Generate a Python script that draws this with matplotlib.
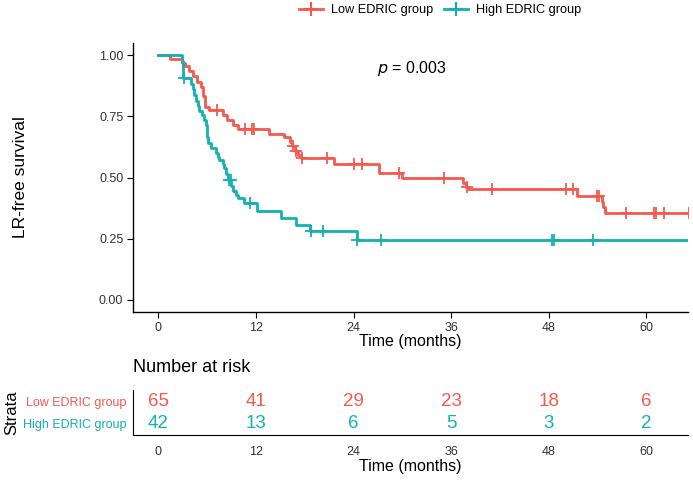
import numpy as np
import matplotlib
matplotlib.use("Agg")
import matplotlib.pyplot as plt
from matplotlib.lines import Line2D

plt.rcParams['font.family'] = ['Liberation Sans', 'DejaVu Sans']

# ---------------- data ----------------
groups = ["Low EDRIC group", "High EDRIC group"]
colors = ["#F5594E", "#14B1B4"]

low_times = [0, 1.4, 2.96, 3.3, 3.8, 4.3, 4.8, 5.3, 5.5, 5.8, 6.2, 8.0, 8.5, 9.2, 9.75,
             13.6, 15.4, 16.2, 16.4, 16.8, 17.2, 17.6, 21.6, 27.1, 29.9, 37.5, 37.8,
             38.1, 51.5, 54.5, 54.7, 54.9]
low_surv = [1.0, 0.985, 0.97, 0.955, 0.936, 0.915, 0.89, 0.87, 0.833, 0.79, 0.777,
            0.755, 0.735, 0.716, 0.697, 0.678, 0.664, 0.646, 0.628, 0.608, 0.594,
            0.578, 0.557, 0.519, 0.497, 0.478, 0.462, 0.451, 0.423, 0.40, 0.378, 0.353]
low_censor = [7.2, 10.7, 11.5, 11.8, 16.5, 16.9, 17.7, 20.7, 24.0, 25.1, 29.6, 35.1,
              37.9, 41.0, 50.1, 51.0, 53.9, 54.2, 57.5, 60.9, 61.2, 62.1, 65.2]

high_times = [0, 2.9, 3.0, 3.05, 3.1, 4.0, 4.25, 4.45, 4.66, 4.87, 5.07, 5.36, 5.68,
              5.9, 6.0, 6.03, 6.06, 6.5, 7.1, 7.3, 7.5, 7.9, 8.1, 8.3, 8.6, 8.95, 9.2,
              9.6, 9.8, 10.6, 12.1, 15.1, 16.9, 18.6, 24.4]
high_surv = [1.0, 0.976, 0.952, 0.929, 0.905, 0.881, 0.861, 0.836, 0.813, 0.792, 0.772,
             0.755, 0.735, 0.715, 0.69, 0.667, 0.643, 0.62, 0.60, 0.585, 0.57, 0.555,
             0.538, 0.515, 0.49, 0.466, 0.444, 0.43, 0.415, 0.395, 0.362, 0.335, 0.307,
             0.28, 0.245]
high_censor = [3.2, 8.75, 8.9, 11.3, 18.8, 20.2, 24.4, 27.4, 48.4, 48.6, 53.4]

risk_times = [0, 12, 24, 36, 48, 60]
risk_low = [65, 41, 29, 23, 18, 6]
risk_high = [42, 13, 6, 5, 3, 2]

p_text = "0.003"
xticks = [0, 12, 24, 36, 48, 60]
yticks = [0.0, 0.25, 0.5, 0.75, 1.0]

# ---------------- figure ----------------
W, H = 693, 480
fig = plt.figure(figsize=(W / 100, H / 100), dpi=100)

def fx(px):
    return px / W

def fy(py):
    return 1 - py / H

ax = fig.add_axes([fx(133), fy(312), fx(688) - fx(133), fy(43) - fy(312)])
xlim = (-3.1, 65.1)

series = [(low_times, low_surv, low_censor), (high_times, high_surv, high_censor)]
for (t, s, c), col in zip(series, colors):
    tt = list(t) + [xlim[1] + 5]
    ss = list(s) + [s[-1]]
    ax.step(tt, ss, where='post', color=col, lw=2.0, zorder=3)
    ct = np.array(c)
    idx = np.searchsorted(np.array(t), ct, side='right') - 1
    cy = np.array(s)[idx]
    ax.plot(ct, cy, linestyle='none', marker='+', markersize=9, markeredgewidth=1.3,
            color=col, zorder=4)

ax.set_xlim(*xlim)
ax.set_ylim(-0.05, 1.05)
ax.set_xticks(xticks)
ax.set_yticks(yticks)
ax.set_yticklabels([f"{v:.2f}" for v in yticks])
for sp in ['top', 'right']:
    ax.spines[sp].set_visible(False)
for sp in ['left', 'bottom']:
    ax.spines[sp].set_linewidth(1.0)
ax.tick_params(axis='both', direction='out', length=4, width=0.8, labelsize=9,
               colors='black', labelcolor='#333333', pad=3)
ax.set_xlabel("Time (months)", fontsize=11.5, labelpad=0)
ax.set_ylabel("LR-free survival", fontsize=12.5)
ax.yaxis.set_label_coords(-0.19, 0.5)
ax.text(26.9, 0.947, "$p$ = " + p_text, fontsize=11.5, ha='left', va='center')

# legend
handles = [Line2D([0], [0], color=c, lw=2.0, marker='+', markersize=10,
                  markeredgewidth=1.5) for c in colors]
fig.legend(handles, groups, loc='center', bbox_to_anchor=(fx(440), fy(10)), ncol=2,
           frameon=False, fontsize=9.2, handlelength=1.9, handletextpad=0.6,
           columnspacing=0.8, borderaxespad=0)

# risk table
fig.text(fx(133), fy(368), "Number at risk", fontsize=13, ha='left', va='center')
rax = fig.add_axes([fx(133), fy(435), fx(688) - fx(133), fy(390) - fy(435)])
rax.set_xlim(*xlim)
rax.set_ylim(0.45, 2.55)
for vals, yv, col in [(risk_low, 2, colors[0]), (risk_high, 1, colors[1])]:
    for t, v in zip(risk_times, vals):
        rax.text(t, yv, str(v), ha='center', va='center', fontsize=13.5, color=col)
rax.set_yticks([2, 1])
rax.set_yticklabels(groups)
for lab, col in zip(rax.get_yticklabels(), colors):
    lab.set_color(col)
rax.set_xticks(xticks)
for sp in ['top', 'right']:
    rax.spines[sp].set_visible(False)
rax.tick_params(axis='both', length=0, labelsize=9, pad=5)
rax.tick_params(axis='x', labelcolor='#333333', pad=8)
rax.set_xlabel("Time (months)", fontsize=11.5, labelpad=1)
rax.set_ylabel("Strata", fontsize=12, labelpad=2)

fig.savefig("out.png", dpi=100)
